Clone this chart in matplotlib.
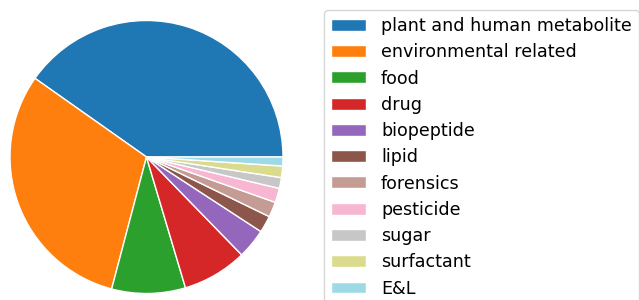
import matplotlib
matplotlib.use("Agg")
import matplotlib.pyplot as plt

labels = ["plant and human metabolite", "environmental related", "food", "drug",
          "biopeptide", "lipid", "forensics", "pesticide", "sugar", "surfactant", "E&L"]
values = [144.8, 110.4, 31.4, 27.6, 12.7, 7.2, 6.5, 6.1, 4.6, 4.9, 3.8]
colors = ["#1f77b4", "#ff7f0e", "#2ca02c", "#d62728", "#9467bd", "#8c564b",
          "#c49c94", "#f7b6d2", "#c7c7c7", "#dbdb8d", "#9edae5"]

W, H = 639, 300
fig = plt.figure(figsize=(W / 100, H / 100), dpi=100)

cx, cy, r = 146.5, 157, 136.5
ax = fig.add_axes([(cx - r) / W, (H - cy - r) / H, 2 * r / W, 2 * r / H])
wedges, _ = ax.pie(values, colors=colors, startangle=0, counterclock=True,
                   wedgeprops=dict(edgecolor="white", linewidth=1))
ax.set_xlim(-1, 1)
ax.set_ylim(-1, 1)
ax.set_aspect("equal")
ax.axis("off")

fig.legend(wedges, labels, loc="upper left",
           bbox_to_anchor=(324 / W, 1 - 10 / H), borderaxespad=0,
           fontsize=12.65, labelspacing=0.47, handleheight=0.66,
           handletextpad=0.85, frameon=True)

fig.savefig("out.png", dpi=100)
